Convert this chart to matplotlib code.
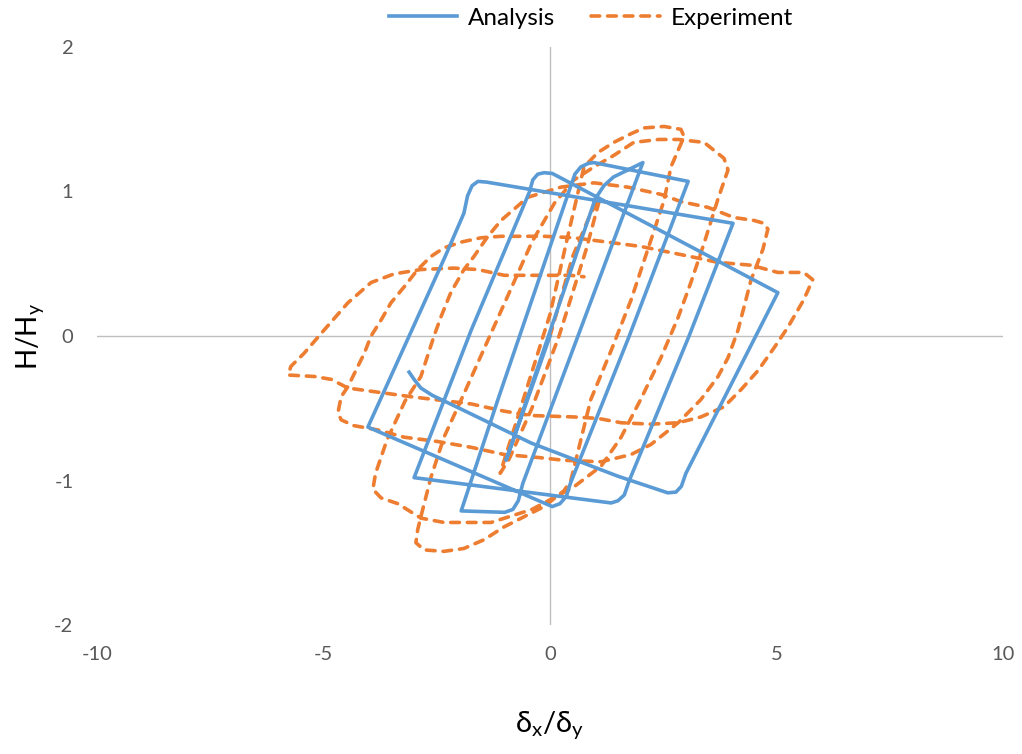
import matplotlib
matplotlib.use("Agg")
import matplotlib.pyplot as plt
import numpy as np

plt.rcParams['font.family'] = ['Lato', 'DejaVu Sans']
plt.rcParams['mathtext.default'] = 'regular'

# Analysis (blue) path
ana_x = [0, -0.97, 1.0, 1.19, 1.4, 2.05,
         -0.6, -0.7, -0.82, -1.0, -1.96,
         -1.15, 0.45, 0.55, 0.68, 0.85, 0.97, 3.05,
         1.75, 0.45, 0.36, 0.22, 0.05, -4.02,
         -2.3, -1.9, -1.82, -1.72, -1.59, -1.4, 4.04,
         3.07, 1.75, 1.64, 1.5, 1.35, -3.0,
         -1.74, -0.45, -0.38, -0.27, -0.13, 0.05, 5.03,
         3.0, 2.9, 2.78, 2.6, 1.5, -0.42, -2.0, -2.6, -2.85, -3.0, -3.11]
ana_y = [0, -0.86, 0.95, 1.04, 1.1, 1.2,
         -1.02, -1.14, -1.2, -1.22, -1.21,
         -0.44, 1.03, 1.12, 1.17, 1.195, 1.2, 1.07,
         0.0, -1.02, -1.11, -1.16, -1.18, -0.63,
         0.56, 0.85, 0.97, 1.04, 1.07, 1.065, 0.78,
         0.0, -1.0, -1.1, -1.14, -1.155, -0.98,
         0.04, 1.0, 1.08, 1.12, 1.13, 1.125, 0.30,
         -0.95, -1.04, -1.08, -1.085, -0.97, -0.74, -0.5, -0.41, -0.36, -0.3, -0.25]

# Experiment (orange) path
exp_x = [0, 0.5, 0.9, 1.1,
         0.8, 0.2, -0.4, -0.9, -1.1,
         -0.6, 0.0, 0.4, 0.75, 1.06, 1.41, 1.79, 2.08, 2.52, 2.89, 2.96,
         2.67, 2.52, 2.16, 1.79, 1.35, 0.9, 0.46, 0.31, -0.13, -0.57, -1.01, -1.46, -1.9, -2.34, -2.78, -2.96, -2.92,
         -2.85, -2.63, -2.34, -1.9, -1.4, -0.9, -0.4, 0.1, 0.53, 0.97, 1.41, 1.85, 2.4, 2.83, 3.4, 3.84, 3.93,
         3.7, 3.4, 3.11, 2.83, 2.45, 2.0, 1.57, 1.13, 0.5, -0.4, -1.3, -2.34, -2.85, -3.36, -3.73, -3.91,
         -3.85, -3.6, -3.2, -2.85, -2.56, -2.41, -2.19, -1.9, -1.68, -1.37, -1.08, -0.49, 0.24, 0.97, 1.72, 2.45, 2.89, 3.49, 4.06, 4.5, 4.72, 4.81,
         4.7, 4.44, 4.15, 3.93, 3.71, 3.33, 2.83, 2.23, 1.79, 1.13, 0.31, -0.27, -1.01, -1.74, -2.48, -3.22, -3.8, -4.33, -4.61, -4.68,
         -4.61, -4.46, -4.1, -3.95, -3.73, -3.51, -3.22, -2.92, -2.63, -2.34, -1.96, -1.52, -1.08, -0.13, 0.53, 2.0, 3.1, 3.7, 4.44, 5.03, 5.6, 5.8,
         5.6, 5.25, 4.95, 4.59, 4.22, 3.84, 3.33, 2.83, 2.23, 1.57, 1.06, 0.53, -0.42, -1.01, -1.74, -3.07, -4.46, -4.83, -5.2, -5.78,
         -5.72, -5.43, -4.99, -4.46, -3.95, -3.44, -2.85, -2.12, -1.59, -1.01, -0.27, 0.46, 0.75]
exp_y = [0, 0.55, 0.85, 0.95,
         0.6, 0.0, -0.5, -0.85, -0.95,
         -0.45, 0.15, 0.7, 1.17, 1.27, 1.34, 1.40, 1.44, 1.45, 1.43, 1.38,
         1.17, 0.94, 0.6, 0.25, -0.1, -0.44, -1.0, -1.07, -1.18, -1.25, -1.32, -1.41, -1.47, -1.49, -1.48, -1.43, -1.34,
         -1.25, -0.98, -0.7, -0.4, -0.05, 0.3, 0.65, 0.92, 1.08, 1.17, 1.25, 1.34, 1.36, 1.36, 1.34, 1.23, 1.15,
         0.94, 0.64, 0.37, 0.13, -0.15, -0.44, -0.7, -0.9, -1.05, -1.2, -1.29, -1.29, -1.26, -1.16, -1.12, -1.06,
         -0.95, -0.72, -0.45, -0.28, 0.0, 0.13, 0.3, 0.46, 0.55, 0.69, 0.8, 0.96, 1.03, 1.06, 1.03, 0.98, 0.93, 0.89, 0.82, 0.8, 0.78, 0.74,
         0.6, 0.39, 0.04, -0.15, -0.28, -0.44, -0.6, -0.75, -0.82, -0.87, -0.86, -0.84, -0.82, -0.77, -0.73, -0.7, -0.65, -0.62, -0.58, -0.53,
         -0.42, -0.35, -0.12, 0.0, 0.11, 0.23, 0.34, 0.46, 0.55, 0.61, 0.65, 0.68, 0.69, 0.69, 0.68, 0.62, 0.55, 0.51, 0.49, 0.44, 0.44, 0.39,
         0.25, 0.06, -0.08, -0.24, -0.37, -0.49, -0.56, -0.6, -0.61, -0.6, -0.57, -0.56, -0.55, -0.52, -0.47, -0.42, -0.36, -0.3, -0.28, -0.27,
         -0.21, -0.12, 0.04, 0.23, 0.37, 0.43, 0.46, 0.47, 0.46, 0.42, 0.42, 0.42, 0.41]

x_ticks = [-10, -5, 0, 5, 10]
y_ticks = [-2, -1, 0, 1, 2]

fig = plt.figure(figsize=(10.22, 7.54), dpi=100)
ax = fig.add_axes([0.0949, 0.171, 0.8865, 0.7667])
ax.set_xlim(-10, 10)
ax.set_ylim(-2, 2)

ax.axhline(0, color='#BFBFBF', lw=1.0, zorder=1)
ax.axvline(0, color='#BFBFBF', lw=1.0, zorder=1)

ax.plot(ana_x, ana_y, color='#5B9BD5', lw=2.6, solid_joinstyle='round',
        label='Analysis', zorder=3)
ax.plot(exp_x, exp_y, color='#ED7D31', lw=2.6, linestyle=(0, (2.4, 2.2)),
        dash_capstyle='round', label='Experiment', zorder=2)

for s in ax.spines.values():
    s.set_visible(False)
ax.set_xticks(x_ticks)
ax.set_yticks(y_ticks)
ax.set_xticklabels([str(t) for t in x_ticks])
ax.set_yticklabels([str(t) for t in y_ticks])
ax.tick_params(length=0, labelsize=14.5, colors='#595959', pad=15)
ax.tick_params(axis='y', pad=17)

ax.set_xlabel('δ$_x$/δ$_y$', fontsize=21, labelpad=33, color='black')
ax.set_ylabel('H/H$_y$', fontsize=20, labelpad=6, color='black')

ax.legend(loc='center', bbox_to_anchor=(0.545, 1.05), ncol=2, frameon=False,
          fontsize=17.5, handlelength=2.8, columnspacing=1.5, handletextpad=0.45)

fig.savefig('out.png', dpi=100)
